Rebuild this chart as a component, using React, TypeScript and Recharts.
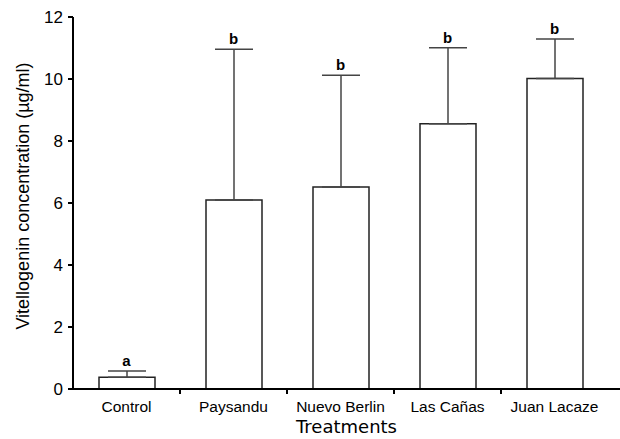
import { ComposedChart, Bar, Line, XAxis, YAxis, ErrorBar, LabelList } from "recharts";

const treatments = ["Control", "Paysandu", "Nuevo Berlin", "Las Cañas", "Juan Lacaze"];
const means = [0.38, 6.1, 6.52, 8.56, 10.02];
const upperSd = [0.2, 4.86, 3.6, 2.45, 1.27];
const letters = ["a", "b", "b", "b", "b"];
const yTicks = [0, 2, 4, 6, 8, 10, 12];

const data = treatments.map((t, i) => ({
  name: t,
  mean: means[i],
  err: [0, upperSd[i]],
  top: means[i] + upperSd[i],
  letter: letters[i],
}));

const BAND = 107;

const XTick = (props: any) => {
  const { x, y, payload, index } = props;
  return (
    <g>
      {index > 0 && <line x1={x - BAND / 2} x2={x - BAND / 2} y1={y - 8} y2={y - 3} stroke="#000" strokeWidth={2} />}
      <text x={x} y={y + 15} textAnchor="middle" fontSize={15.5} fontFamily="Liberation Sans, Arial" fill="#000">
        {payload.value}
      </text>
    </g>
  );
};

const YTitle = () => (
  <text
    x={0}
    y={0}
    transform="translate(29,196) rotate(-90)"
    textAnchor="middle"
    fontSize={18}
    fontFamily="Liberation Sans, Arial"
    fill="#000"
  >
    Vitellogenin concentration (µg/ml)
  </text>
);

export default function App() {
  return (
    <div style={{ position: "absolute", left: 0, top: 0, background: "#fff" }}>
      <ComposedChart width={620} height={439} data={data} margin={{ top: 17, right: 0, left: 0, bottom: 0 }}>
        <XAxis
          dataKey="name"
          height={50}
          padding={{ left: 0, right: 12 }}
          axisLine={{ stroke: "#000", strokeWidth: 2 }}
          tickLine={false}
          tick={<XTick />}
          interval={0}
          label={{ value: "Treatments", position: "insideBottom", offset: 6, fontSize: 18, fontFamily: "DejaVu Sans", fill: "#000" }}
        />
        <YAxis
          width={73}
          domain={[0, 12]}
          ticks={yTicks}
          interval={0}
          axisLine={{ stroke: "#000", strokeWidth: 2 }}
          tickLine={{ stroke: "#000", strokeWidth: 2 }}
          tickSize={5}
          tickMargin={5}
          tick={{ fill: "#000", fontSize: 17, fontFamily: "Liberation Sans, Arial" }}
          label={<YTitle />}
        />
        <Bar dataKey="mean" barSize={56} fill="#fff" stroke="#222" strokeWidth={1.5} isAnimationActive={false}>
          <ErrorBar dataKey="err" width={19} stroke="#444" strokeWidth={1.5} direction="y" />
        </Bar>
        <Line dataKey="top" stroke="none" dot={false} activeDot={false} isAnimationActive={false}>
          <LabelList dataKey="letter" position="top" offset={5} fontSize={15} fontWeight="bold" fontFamily="Liberation Sans, Arial" fill="#000" />
        </Line>
      </ComposedChart>
    </div>
  );
}
